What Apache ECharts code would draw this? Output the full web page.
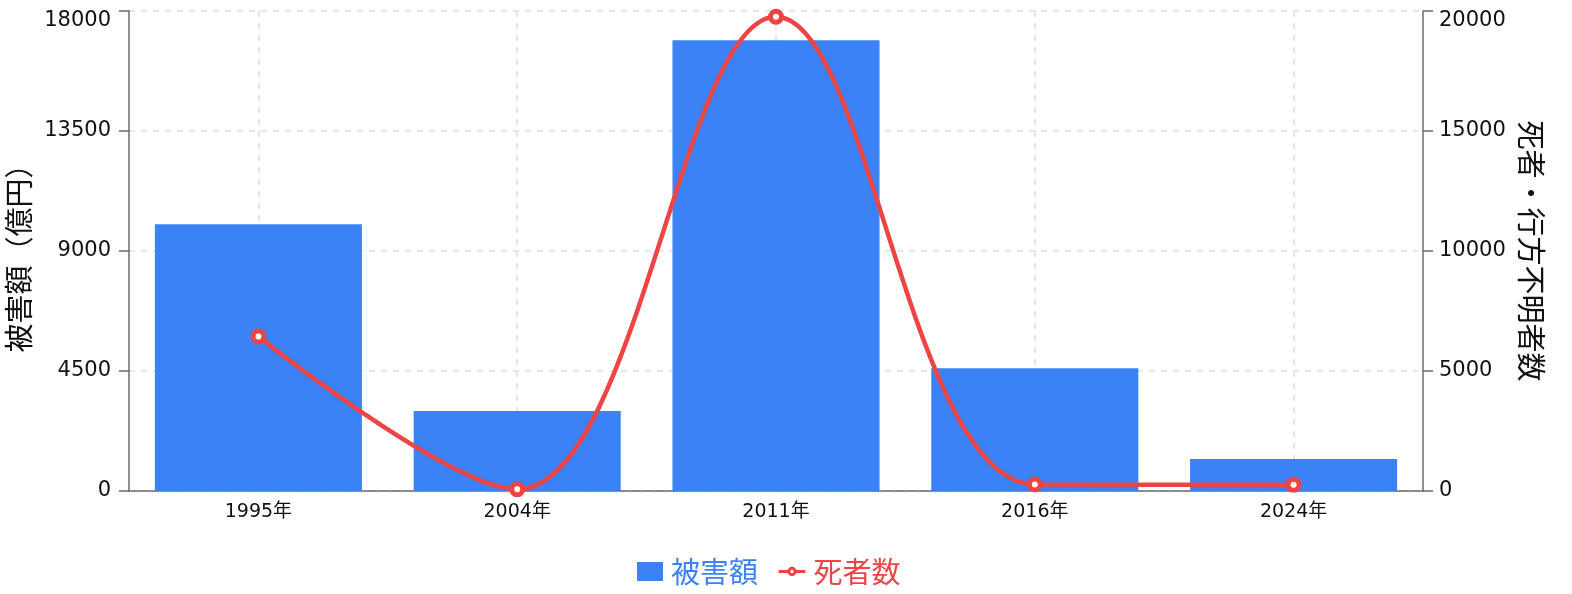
<!DOCTYPE html>
<html>
<head>
<meta charset="utf-8">
<script src="https://cdn.jsdelivr.net/npm/echarts@6/dist/echarts.min.js"></script>
<style>
html,body{margin:0;padding:0;background:#fff;}
#chart{width:1572px;height:594px;}
</style>
</head>
<body>
<div id="chart"></div>
<script>
const categories = ['1995年', '2004年', '2011年', '2016年', '2024年'];
const damage = [10000, 3000, 16900, 4600, 1200];
const deaths = [6434, 68, 19759, 273, 260];
const leftTicks = { min: 0, max: 18000, interval: 4500 };
const rightTicks = { min: 0, max: 20000, interval: 5000 };

const FONT = '"DejaVu Sans", "Noto Sans CJK JP", sans-serif';
const CJK = '"Noto Sans CJK JP", sans-serif';
const BLUE = '#3b82f6';
const RED = '#ef4444';
const AXIS = '#6b6b6b';

function tickFormatter(maxVal) {
  return function (v) {
    return v === maxVal ? '{top|' + v + '}' : String(v);
  };
}

const chart = echarts.init(document.getElementById('chart'));
chart.setOption({
  animation: false,
  backgroundColor: '#fff',
  grid: { left: 129, right: 149, top: 11, bottom: 103, containLabel: false, outerBoundsMode: 'none' },
  legend: [
    {
      top: 552,
      left: 632,
      itemWidth: 26,
      itemHeight: 19,
      textStyle: { fontSize: 29, fontFamily: CJK, padding: [0, 0, 0, 3] },
      data: [{ name: '被害額', icon: 'rect', textStyle: { color: BLUE } }]
    },
    {
      top: 552,
      left: 772,
      itemWidth: 27,
      itemHeight: 8,
      textStyle: { fontSize: 29, fontFamily: CJK, padding: [0, 0, 0, 3] },
      data: [{
        name: '死者数',
        textStyle: { color: RED },
        lineStyle: { width: 3, color: RED },
        itemStyle: { color: '#fff', borderColor: RED, borderWidth: 3 }
      }]
    }
  ],
  xAxis: {
    type: 'category',
    data: categories,
    boundaryGap: true,
    axisLine: { lineStyle: { color: AXIS, width: 1.5 } },
    axisTick: { alignWithLabel: true, length: 9, lineStyle: { color: AXIS, width: 1.5 } },
    axisLabel: { fontSize: 19, color: '#111', margin: 12, fontFamily: FONT },
    splitLine: { show: true, alignWithLabel: true, lineStyle: { color: '#e0e0e0', width: 1.5, type: [6, 6] } }
  },
  yAxis: [
    {
      type: 'value',
      min: leftTicks.min, max: leftTicks.max, interval: leftTicks.interval,
      name: '被害額（億円）',
      nameLocation: 'middle',
      nameGap: 89,
      nameTextStyle: { fontSize: 29, color: '#111', fontFamily: CJK },
      axisLine: { show: true, lineStyle: { color: AXIS, width: 1.5 } },
      axisTick: { show: true, length: 10, lineStyle: { color: AXIS, width: 1.5 } },
      axisLabel: {
        fontSize: 21, color: '#111', margin: 18, fontFamily: FONT,
        formatter: tickFormatter(leftTicks.max),
        rich: { top: { fontSize: 21, color: '#111', fontFamily: FONT, padding: [20, 0, 0, 0] } }
      },
      splitLine: { show: true, lineStyle: { color: '#e0e0e0', width: 1.5, type: [6, 6] } }
    },
    {
      type: 'value',
      position: 'right',
      min: rightTicks.min, max: rightTicks.max, interval: rightTicks.interval,
      name: '死者・行方不明者数',
      nameLocation: 'middle',
      nameGap: 89,
      nameRotate: -90,
      nameTextStyle: { fontSize: 29, color: '#111', fontFamily: CJK },
      axisLine: { show: true, lineStyle: { color: AXIS, width: 1.5 } },
      axisTick: { show: true, length: 10, lineStyle: { color: AXIS, width: 1.5 } },
      axisLabel: {
        fontSize: 21, color: '#111', margin: 16, fontFamily: FONT,
        formatter: tickFormatter(rightTicks.max),
        rich: { top: { fontSize: 21, color: '#111', fontFamily: FONT, padding: [20, 0, 0, 0] } }
      },
      splitLine: { show: false }
    }
  ],
  series: [
    {
      name: '被害額',
      type: 'bar',
      yAxisIndex: 0,
      data: damage,
      barWidth: '80%',
      itemStyle: { color: BLUE }
    },
    {
      name: '死者数',
      type: 'line',
      yAxisIndex: 1,
      data: deaths,
      smooth: 0.36,
      symbol: 'circle',
      symbolSize: 11,
      lineStyle: { color: RED, width: 4.5 },
      itemStyle: { color: '#fff', borderColor: RED, borderWidth: 5 },
      z: 5
    }
  ]
});
</script>
</body>
</html>
